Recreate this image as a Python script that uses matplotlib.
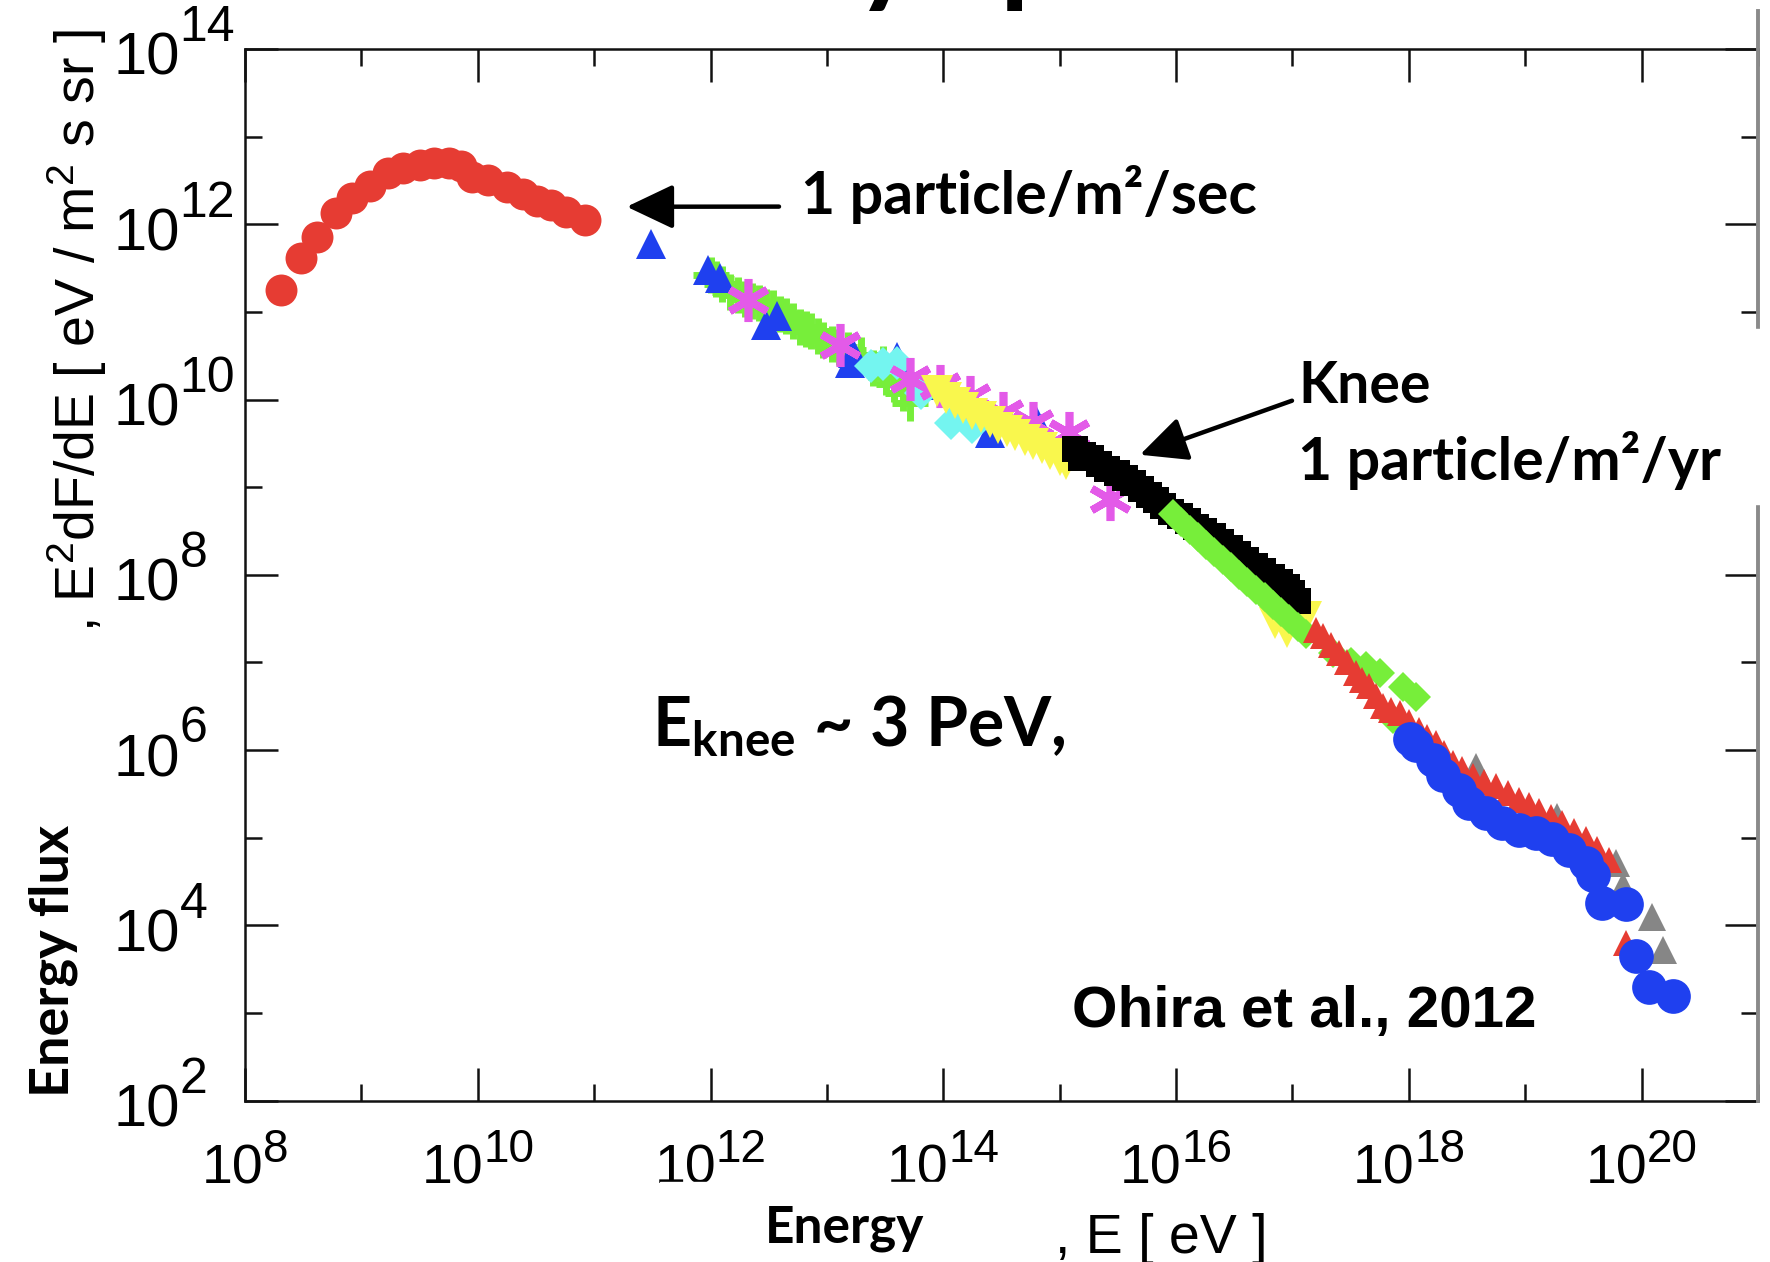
import matplotlib
matplotlib.use("Agg")
import numpy as np
import matplotlib.pyplot as plt
from matplotlib.lines import Line2D
from matplotlib.patches import Rectangle
from matplotlib.ticker import FixedLocator, NullFormatter

plt.rcParams['font.family'] = ['Liberation Sans', 'DejaVu Sans']
plt.rcParams['mathtext.default'] = 'regular'

# ---- data: log10(E [eV]) and log10(E^2 dF/dE) ----
red_circ_x = [8.31, 8.48, 8.62, 8.78, 8.92, 9.07, 9.23, 9.36, 9.50, 9.62,
              9.75, 9.86, 9.95, 10.09, 10.25, 10.39, 10.51, 10.63, 10.76, 10.92]
red_circ_y = [11.25, 11.61, 11.85, 12.13, 12.30, 12.44, 12.58, 12.64, 12.68, 12.70,
              12.70, 12.66, 12.54, 12.51, 12.43, 12.35, 12.26, 12.22, 12.14, 12.05]

blue_tri_x = [11.49, 11.98, 12.08, 12.48, 12.57, 13.20, 13.22, 13.60, 13.97, 14.40, 14.80]
blue_tri_y = [11.78, 11.48, 11.39, 10.85, 10.95, 10.42, 10.53, 10.49, 10.17, 9.62, 9.77]

green_plus_x = [12.00, 12.05, 12.10, 12.17, 12.24, 12.30, 12.36, 12.42, 12.48, 12.54,
                12.60, 12.65, 12.71, 12.77, 12.82, 12.86, 12.92, 12.97, 13.04, 13.10,
                13.18, 13.29, 13.40, 13.48, 13.51, 13.58, 13.65, 13.71]
green_plus_y = [11.42, 11.37, 11.32, 11.23, 11.19, 11.15, 11.12, 11.10, 11.06, 11.04,
                10.98, 10.95, 10.90, 10.83, 10.81, 10.78, 10.72, 10.68, 10.63, 10.60,
                10.56, 10.51, 10.36, 10.41, 10.26, 10.18, 10.07, 9.96]

cyan_dia_x = [13.38, 13.48, 13.60, 13.81, 14.07, 14.25]
cyan_dia_y = [10.38, 10.40, 10.42, 10.07, 9.73, 9.69]

magenta_ast_x = [12.32, 13.11, 13.71, 13.97, 14.23, 14.51, 14.77, 15.08, 15.43]
magenta_ast_y = [11.14, 10.62, 10.23, 10.15, 10.03, 9.85, 9.73, 9.62, 8.86]

yellow_tri_x = [13.95, 14.02, 14.10, 14.17, 14.25, 14.32, 14.40, 14.47, 14.55, 14.62,
                14.70, 14.77, 14.85, 14.92, 15.00, 15.05, 16.85, 16.95, 17.12]
yellow_tri_y = [10.10, 10.02, 9.96, 9.90, 9.84, 9.80, 9.74, 9.68, 9.64, 9.60,
                9.54, 9.49, 9.45, 9.38, 9.31, 9.27, 7.45, 7.35, 7.52]

black_sq_x = [15.13, 15.18, 15.20, 15.27, 15.34, 15.41, 15.49, 15.56, 15.63, 15.70,
              15.77, 15.83, 15.89, 15.96, 16.03, 16.10, 16.17, 16.24, 16.32, 16.39,
              16.46, 16.53, 16.60, 16.68, 16.75, 16.82, 16.89, 16.95, 17.00, 17.05]
black_sq_y = [9.43, 9.33, 9.37, 9.33, 9.27, 9.21, 9.16, 9.10, 9.05, 8.98,
              8.91, 8.85, 8.78, 8.72, 8.67, 8.61, 8.55, 8.50, 8.44, 8.37,
              8.31, 8.24, 8.17, 8.10, 8.04, 7.98, 7.92, 7.86, 7.79, 7.70]

green_dia_x = [15.97, 16.04, 16.12, 16.19, 16.26, 16.33, 16.40, 16.47, 16.54, 16.61,
               16.69, 16.76, 16.83, 16.90, 16.97, 17.05, 17.12, 17.35, 17.50, 17.63,
               17.75, 17.86, 17.95, 18.06]
green_dia_y = [8.69, 8.60, 8.51, 8.43, 8.34, 8.26, 8.17, 8.09, 8.00, 7.92,
               7.83, 7.75, 7.66, 7.58, 7.49, 7.40, 7.32, 7.11, 7.00, 6.96,
               6.88, 6.35, 6.72, 6.61]

red_tri_x = [17.20, 17.26, 17.33, 17.40, 17.47, 17.55, 17.60, 17.66, 17.72, 17.78,
             17.85, 17.92, 18.00, 18.09, 18.16, 18.23, 18.30, 18.38, 18.46, 18.55,
             18.65, 18.75, 18.85, 18.95, 19.03, 19.12, 19.22, 19.32, 19.42, 19.52,
             19.62, 19.72, 19.87]
red_tri_y = [7.37, 7.30, 7.20, 7.11, 7.00, 6.88, 6.80, 6.73, 6.62, 6.50,
             6.46, 6.42, 6.32, 6.23, 6.15, 6.08, 5.97, 5.85, 5.78, 5.70,
             5.64, 5.59, 5.51, 5.43, 5.37, 5.30, 5.24, 5.17, 5.08, 4.98,
             4.87, 4.75, 3.80]

gray_tri_x = [18.58, 19.27, 19.78, 19.84, 20.09, 20.18]
gray_tri_y = [5.81, 5.24, 4.71, 4.45, 4.10, 3.72]

blue_circ_x = [18.01, 18.06, 18.21, 18.29, 18.43, 18.52, 18.66, 18.80, 18.95, 19.09,
               19.23, 19.38, 19.52, 19.58, 19.66, 19.87, 19.95, 20.06, 20.27]
blue_circ_y = [6.13, 6.06, 5.89, 5.72, 5.55, 5.40, 5.28, 5.17, 5.09, 5.05,
               4.98, 4.86, 4.71, 4.58, 4.26, 4.24, 3.65, 3.30, 3.19]

x_major = list(range(8, 21, 2))
y_major = list(range(2, 15, 2))

W, H = 1770, 1262


def fx(px):
    return px / W


def fy(py):
    return 1 - py / H


fig = plt.figure(figsize=(W / 100, H / 100), dpi=100)
ax = fig.add_axes([245 / W, 1 - 1100.6 / H, (1758 - 245) / W, (1100.6 - 49) / H])
ax.set_xscale('log')
ax.set_yscale('log')
ax.set_xlim(1e8, 1e21)
ax.set_ylim(1e2, 1e14)


def pts(xs, ys):
    return 10.0 ** np.array(xs), 10.0 ** np.array(ys)


series = [
    (red_circ_x, red_circ_y, dict(marker='o', ms=23, color='#e63c33', mew=0)),
    (green_plus_x, green_plus_y, dict(marker='+', ms=26, color='#77ee3a', mew=5)),
    (blue_tri_x, blue_tri_y, dict(marker='^', ms=21, color='#1f40ef', mew=0)),
    (cyan_dia_x, cyan_dia_y, dict(marker='D', ms=17, color='#74f5f0', mew=0)),
    (magenta_ast_x, magenta_ast_y, dict(marker=(6, 2, 0), ms=31, color='#e35ae8', mew=5.5)),
    (yellow_tri_x, yellow_tri_y, dict(marker='v', ms=23, color='#f9f74d', mew=0)),
    (black_sq_x, black_sq_y, dict(marker='s', ms=19, color='black', mew=0)),
    (green_dia_x, green_dia_y, dict(marker='D', ms=15, color='#77ee3a', mew=0)),
    (gray_tri_x, gray_tri_y, dict(marker='^', ms=20, color='#868686', mew=0)),
    (red_tri_x, red_tri_y, dict(marker='^', ms=19, color='#e63c33', mew=0)),
    (blue_circ_x, blue_circ_y, dict(marker='o', ms=25, color='#1f40ef', mew=0)),
]
for i, (xs, ys, kw) in enumerate(series):
    X, Y = pts(xs, ys)
    ax.plot(X, Y, ls='none', zorder=3 + i, **kw)

ax.xaxis.set_major_locator(FixedLocator([10.0 ** k for k in x_major]))
ax.xaxis.set_minor_locator(FixedLocator([10.0 ** (k + 1) for k in x_major]))
ax.yaxis.set_major_locator(FixedLocator([10.0 ** k for k in y_major]))
ax.yaxis.set_minor_locator(FixedLocator([10.0 ** (k + 1) for k in y_major]))
ax.xaxis.set_major_formatter(NullFormatter())
ax.yaxis.set_major_formatter(NullFormatter())
ax.xaxis.set_minor_formatter(NullFormatter())
ax.yaxis.set_minor_formatter(NullFormatter())

ax.tick_params(which='both', direction='in', top=True, right=True, width=1.8,
               color='#111111')
ax.tick_params(which='major', length=24)
ax.tick_params(which='minor', length=12)
for s in ['left', 'bottom', 'top']:
    ax.spines[s].set_linewidth(1.8)
    ax.spines[s].set_color('#111111')
ax.spines['right'].set_visible(False)

# tick labels "10" with a raised exponent, gnuplot style
DIG = 0.556  # digit advance of Liberation Sans, in em
XB, XE = 40, 33
for k in x_major:
    w10 = 2 * DIG * XB
    we = len(str(k)) * DIG * XE
    jx = (w10 - we) / 2
    ax.annotate('10', xy=(10.0 ** k, 0), xycoords=('data', 'axes fraction'),
                xytext=(jx, -60), textcoords='offset points', ha='right',
                va='baseline', fontsize=XB, annotation_clip=False)
    ax.annotate(str(k), xy=(10.0 ** k, 0), xycoords=('data', 'axes fraction'),
                xytext=(jx, -44), textcoords='offset points', ha='left',
                va='baseline', fontsize=XE, annotation_clip=False)
YB, YE = 43, 36
for k in y_major:
    ax.annotate('10', xy=(0, 10.0 ** k), xycoords=('axes fraction', 'data'),
                xytext=(-47, -18.7), textcoords='offset points', ha='right',
                va='baseline', fontsize=YB, annotation_clip=False)
    ax.annotate(str(k), xy=(0, 10.0 ** k), xycoords=('axes fraction', 'data'),
                xytext=(-47, 5.5), textcoords='offset points', ha='left',
                va='baseline', fontsize=YE, annotation_clip=False)

# grey right border, broken where the label box sits
for y0, y1 in [(11, 329), (504, 1100.6)]:
    fig.add_artist(Line2D([fx(1758), fx(1758)], [fy(y0), fy(y1)],
                          color='#8a8a8a', lw=2.8, transform=fig.transFigure, zorder=0.5))

# white boxes pasted over the original figure
fig.add_artist(Rectangle((fx(1296), fy(504)), (W - 1296) / W, (504 - 329) / H,
                         transform=fig.transFigure, color='white', zorder=2))
fig.add_artist(Rectangle((fx(660), 0), (1016 - 660) / W, (H - 1182) / H,
                         transform=fig.transFigure, color='white', zorder=2))

# axis labels
fig.text(fx(77), fy(632), ', E$^2$dF/dE [ eV / m$^2$ s sr ]', rotation=90,
         ha='center', va='bottom', fontsize=40)
fig.text(fx(53), fy(1097), 'Energy flux', rotation=90, ha='center', va='bottom',
         fontsize=39, family='Lato', weight='bold', zorder=4)
fig.text(fx(765), fy(1242), 'Energy', ha='left', va='baseline', fontsize=37,
         family='Lato', weight='bold', zorder=4)
fig.text(fx(1055), fy(1253), ', E [ eV ]', ha='left', va='baseline', fontsize=40)

# title, mostly off the top of the slide crop
fig.text(fx(333), fy(-9), 'Cosmic ray spectrum', ha='left', va='baseline',
         fontsize=86, family='Lato', weight='bold')

# annotations
ax.annotate('', xy=(10 ** 11.28, 10 ** 12.20), xycoords='data',
            xytext=(779, H - 206.6), textcoords='figure pixels',
            arrowprops=dict(arrowstyle='-|>,head_length=0.8,head_width=0.38',
                            mutation_scale=36, lw=3.2, color='black',
                            shrinkA=0, shrinkB=0))
ax.annotate('', xy=(10 ** 15.69, 10 ** 9.37), xycoords='data',
            xytext=(1292, H - 400.7), textcoords='figure pixels',
            arrowprops=dict(arrowstyle='-|>,head_length=0.8,head_width=0.38',
                            mutation_scale=36, lw=3.2, color='black',
                            shrinkA=0, shrinkB=0))

fig.text(fx(801), fy(214.5), '1 particle/m\u00b2/sec', ha='left', va='baseline',
         fontsize=42.5, family='Lato', weight='bold')
fig.text(fx(1298), fy(403), 'Knee', ha='left', va='baseline',
         fontsize=41, family='Lato', weight='bold', zorder=4)
fig.text(fx(1298), fy(480), '1 particle/m\u00b2/yr', ha='left', va='baseline',
         fontsize=42.5, family='Lato', weight='bold', zorder=4)
fig.text(fx(652), fy(745), 'E$_{knee}$ ~ 3 PeV,', ha='left', va='baseline',
         fontsize=49, family='Lato', weight='bold')
fig.text(fx(1072), fy(1027), 'Ohira et al., 2012', ha='left', va='baseline',
         fontsize=42, family='Liberation Sans', weight='bold')

fig.savefig('out.png', dpi=100)
